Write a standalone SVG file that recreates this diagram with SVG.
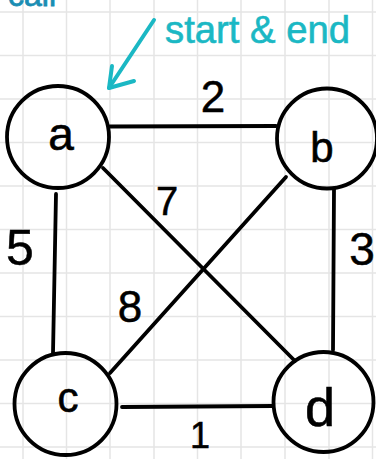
<svg xmlns="http://www.w3.org/2000/svg" width="376" height="459" viewBox="0 0 376 459">
<style>
.grid line{stroke:#e5e5e5;stroke-width:1.5}
.node circle{fill:none;stroke:#000;stroke-width:3.8}
.node text{font-family:"Liberation Sans",Arial,sans-serif;fill:#000;text-anchor:middle;stroke:#000;stroke-width:0.6}
.edges line{stroke:#000;stroke-width:3.8;stroke-linecap:round}
.lbl{font-family:"Liberation Sans",Arial,sans-serif;fill:#000;text-anchor:middle;stroke:#000;stroke-width:0.5}
.teal{fill:#1bb8c4;stroke:#1bb8c4;stroke-width:0.6;font-family:"Liberation Sans",Arial,sans-serif}
</style>
<rect width="376" height="459" fill="#fff"/>
<g class="grid">
<line x1="23" y1="0" x2="23" y2="459"/><line x1="66.5" y1="0" x2="66.5" y2="459"/><line x1="110" y1="0" x2="110" y2="459"/><line x1="154" y1="0" x2="154" y2="459"/><line x1="197.5" y1="0" x2="197.5" y2="459"/><line x1="241" y1="0" x2="241" y2="459"/><line x1="285" y1="0" x2="285" y2="459"/><line x1="329" y1="0" x2="329" y2="459"/><line x1="372.5" y1="0" x2="372.5" y2="459"/>
<line x1="0" y1="12" x2="376" y2="12"/><line x1="0" y1="55.5" x2="376" y2="55.5"/><line x1="0" y1="99" x2="376" y2="99"/><line x1="0" y1="142.5" x2="376" y2="142.5"/><line x1="0" y1="186" x2="376" y2="186"/><line x1="0" y1="229.5" x2="376" y2="229.5"/><line x1="0" y1="273" x2="376" y2="273"/><line x1="0" y1="316.5" x2="376" y2="316.5"/><line x1="0" y1="360" x2="376" y2="360"/><line x1="0" y1="403.5" x2="376" y2="403.5"/><line x1="0" y1="447" x2="376" y2="447"/>
</g>
<text x="8" y="6" font-family="Liberation Sans,Arial,sans-serif" font-size="32" fill="#1a8db3" stroke="#1a8db3" stroke-width="0.8">call</text>
<g id="annotation">
<text class="teal" x="165" y="43" font-size="38" textLength="185" lengthAdjust="spacingAndGlyphs">start &amp; end</text>
<g stroke="#1bb8c4" stroke-width="4" stroke-linecap="round" stroke-linejoin="round" fill="none">
<line x1="154" y1="20" x2="109" y2="88"/>
<polyline points="112,66 109,88 134,81"/>
</g>
</g>
<g class="edges" id="edges">
<line x1="110" y1="126.5" x2="276" y2="126"/>
<line x1="103" y1="168" x2="295" y2="361"/>
<line x1="286" y1="177" x2="110" y2="373"/>
<line x1="56" y1="194" x2="53" y2="353"/>
<line x1="334" y1="189" x2="333" y2="350"/>
<line x1="122" y1="407" x2="273" y2="406"/>
</g>
<g id="labels">
<text class="lbl" x="213" y="112" font-size="44">2</text>
<text class="lbl" x="167" y="215" font-size="40">7</text>
<text class="lbl" x="130" y="322" font-size="44">8</text>
<text class="lbl" x="20" y="265" font-size="50">5</text>
<text class="lbl" x="362" y="265" font-size="46">3</text>
<text class="lbl" x="200" y="448" font-size="36">1</text>
</g>
<g class="node" id="node-a"><circle cx="58" cy="137" r="51"/><text x="61" y="150" font-size="46">a</text></g>
<g class="node" id="node-b"><circle cx="327" cy="138.5" r="50"/><text x="322" y="162" font-size="42">b</text></g>
<g class="node" id="node-c"><circle cx="65.5" cy="404" r="51"/><text x="68" y="412" font-size="42">c</text></g>
<g class="node" id="node-d"><circle cx="323.5" cy="402" r="50"/><text x="320" y="426" font-size="54">d</text></g>
</svg>
